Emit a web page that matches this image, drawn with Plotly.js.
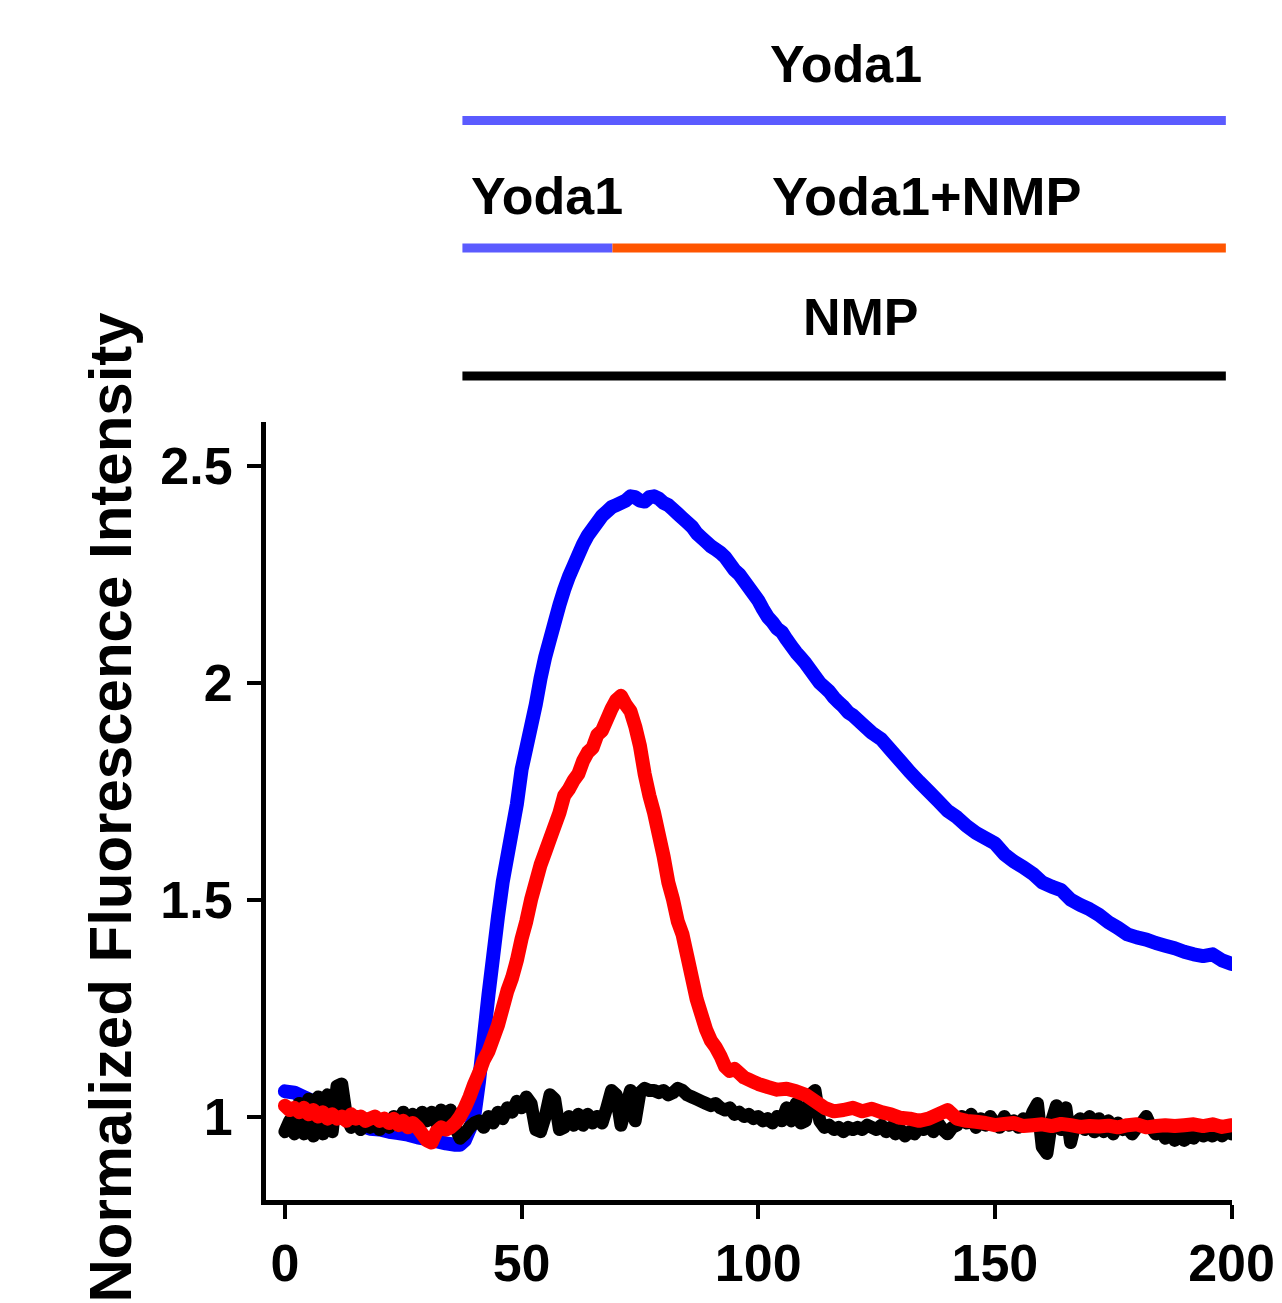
<!DOCTYPE html>
<html>
<head>
<meta charset="utf-8">
<script src="https://cdn.plot.ly/plotly-3.0.1.min.js"></script>
<style>
html, body { margin: 0; padding: 0; background: #fff; }
#chart { width: 1282px; height: 1303px; }
.scatterlayer .js-line { stroke-linejoin: round !important; stroke-linecap: round !important; }
</style>
</head>
<body>
<div id="chart"></div>
<script>
// ---- data (time in s, normalized fluorescence intensity) ----
const yoda1Time = [0,2,4,6,8,10,12,14,16,18,20,22,24,26,28,30,32,34,36,
  37,38,39,40,41,42,43,44,45,46,47,48,49,50,51,52,53,54,55,56,57,58,59,60,
  61,62,63,64,65,66,67,68,69,70,71,72,73,74,75,76,77,78,79,80,81,82,83,84,
  85,86,87,88,89,90,91,92,93,94,95,96,97,98,99,100,101,102,103,104,105,106,
  107,108,109,110,111,112,113,114,115,116,117,118,119,120,
  122,124,126,128,130,132,134,136,138,140,142,144,146,148,150,152,154,156,158,160,
  162,164,166,168,170,172,174,176,178,180,182,184,186,188,190,192,194,196,198,200];
const yoda1Values = [1.058,1.055,1.045,1.035,1.025,1.018,1.005,0.99,0.98,0.972,0.97,0.965,0.962,0.958,0.952,0.948,0.943,0.938,0.935,
  0.935,0.945,0.97,1.0,1.08,1.18,1.28,1.37,1.46,1.54,1.6,1.66,1.72,1.8,1.85,1.9,1.95,2.01,2.06,2.1,2.14,2.18,2.215,2.245,
  2.27,2.295,2.32,2.34,2.355,2.37,2.385,2.395,2.405,2.41,2.415,2.42,2.43,2.428,2.42,2.418,2.428,2.43,2.425,2.415,2.41,2.4,2.39,2.38,
  2.37,2.36,2.345,2.335,2.325,2.315,2.308,2.3,2.29,2.275,2.26,2.25,2.235,2.22,2.205,2.19,2.17,2.152,2.14,2.125,2.117,2.1,
  2.085,2.07,2.058,2.045,2.03,2.015,2.0,1.99,1.98,1.966,1.955,1.945,1.932,1.925,
  1.905,1.885,1.87,1.845,1.82,1.795,1.772,1.75,1.728,1.705,1.69,1.67,1.654,1.642,1.63,1.605,1.588,1.575,1.56,1.54,
  1.53,1.522,1.5,1.488,1.478,1.465,1.448,1.435,1.42,1.413,1.408,1.4,1.394,1.388,1.38,1.374,1.37,1.374,1.36,1.352];

const yoda1NmpTime = [0,1,2,3,4,5,6,7,8,9,10,11,12,13,14,15,16,17,18,19,20,
  21,22,23,24,25,26,27,28,29,30,31,32,33,34,35,36,37,38,39,40,
  41,42,43,44,45,46,47,48,49,50,51,52,53,54,55,56,57,58,59,60,
  61,62,63,64,65,66,67,68,69,70,71,72,73,74,75,76,77,78,79,80,
  81,82,83,84,85,86,87,88,89,90,91,92,93,94,95,96,97,98,99,100,
  102,104,106,108,110,112,114,116,118,120,122,124,126,128,130,132,134,136,138,140,
  142,144,146,148,150,152,154,156,158,160,162,164,166,168,170,172,174,176,178,180,
  182,184,186,188,190,192,194,196,198,200];
const yoda1NmpValues = [1.025,1.015,1.02,1.01,1.02,1.005,1.015,1.0,1.01,0.995,1.005,
  0.995,1.0,0.99,1.005,0.995,1.0,0.99,0.995,1.0,0.99,
  0.995,0.985,0.995,0.98,0.99,0.975,0.985,0.975,0.96,0.945,
  0.94,0.965,0.975,0.97,0.975,0.985,1.0,1.02,1.045,1.075,
  1.1,1.13,1.15,1.18,1.21,1.25,1.29,1.32,1.36,1.41,
  1.45,1.5,1.54,1.58,1.61,1.64,1.67,1.7,1.74,1.755,
  1.775,1.79,1.82,1.84,1.85,1.88,1.89,1.915,1.94,1.96,
  1.97,1.95,1.935,1.9,1.855,1.79,1.74,1.7,1.65,1.6,
  1.54,1.5,1.45,1.42,1.37,1.32,1.27,1.235,1.2,1.175,
  1.16,1.14,1.115,1.105,1.11,1.1,1.09,1.085,1.08,1.075,
  1.068,1.062,1.064,1.058,1.05,1.035,1.02,1.012,1.015,1.02,1.012,1.018,1.01,1.005,0.997,0.995,0.99,0.995,1.005,1.015,
  0.995,0.99,0.988,0.985,0.98,0.983,0.985,0.978,0.98,0.982,0.978,0.983,0.98,0.976,0.978,0.977,0.979,0.975,0.98,0.982,
  0.975,0.978,0.98,0.978,0.98,0.982,0.978,0.982,0.976,0.98];

const nmpTime = [0,1,2,3,4,5,6,7,8,9,10,11,12,13,14,15,16,17,18,19,20,
  21,22,23,24,25,26,27,28,29,30,31,32,33,34,35,36,37,38,39,40,
  41,42,43,44,45,46,47,48,49,50,51,52,53,54,55,56,57,58,59,60,
  61,62,63,64,65,66,67,68,69,70,71,72,73,74,75,76,77,78,79,80,
  81,82,83,84,85,86,87,88,89,90,91,92,93,94,95,96,97,98,99,100,
  101,102,103,104,105,106,107,108,109,110,111,112,113,114,115,116,117,118,119,120,
  121,122,123,124,125,126,127,128,129,130,131,132,133,134,135,136,137,138,139,140,
  141,142,143,144,145,146,147,148,149,150,151,152,153,154,155,156,157,158,159,160,
  161,162,163,164,165,166,167,168,169,170,171,172,173,174,175,176,177,178,179,180,
  181,182,183,184,185,186,187,188,189,190,191,192,193,194,195,196,197,198,199,200];
const nmpValues = [0.965,0.99,0.96,1.03,0.96,1.04,0.955,1.045,0.96,1.05,0.965,
  1.07,1.075,1.0,0.975,1.0,0.97,0.995,0.975,0.99,0.97,
  0.995,0.975,1.0,0.98,1.01,0.985,1.005,0.985,1.01,0.99,
  1.01,0.985,1.015,0.99,1.015,0.975,0.95,0.96,0.975,0.985,
  0.99,0.975,1.0,0.985,1.01,0.995,1.02,1.01,1.035,1.02,
  1.045,1.03,0.97,0.965,1.0,1.05,1.04,0.97,0.975,1.0,
  0.98,1.005,0.98,1.005,0.985,1.0,0.985,1.02,1.06,1.05,
  0.98,1.02,1.06,0.99,1.055,1.065,1.06,1.06,1.055,1.06,
  1.05,1.055,1.065,1.06,1.05,1.045,1.04,1.035,1.03,1.025,
  1.03,1.02,1.015,1.02,1.005,1.01,1.0,1.005,0.995,1.0,
  0.99,0.995,0.985,1.0,0.99,1.02,0.99,1.03,0.985,0.99,
  1.05,1.06,0.99,0.975,0.98,0.97,0.975,0.965,0.975,0.97,
  0.975,0.97,0.98,0.975,0.97,0.98,0.965,0.975,0.96,0.97,
  0.955,0.965,0.96,0.975,0.97,0.98,0.965,0.985,0.97,0.96,
  0.975,0.98,1.0,0.985,1.005,0.975,0.995,0.98,1.0,0.985,
  0.975,1.0,0.98,0.99,0.975,0.995,0.98,1.01,1.03,0.93,
  0.915,0.99,1.025,0.97,1.02,0.94,0.985,0.995,0.97,1.0,
  0.965,0.995,0.965,0.99,0.96,0.985,0.97,0.975,0.96,0.975,
  0.985,1.0,0.975,0.96,0.97,0.95,0.965,0.945,0.96,0.945,
  0.955,0.95,0.965,0.955,0.96,0.955,0.965,0.955,0.965,0.96];

const xTickVals = [0, 50, 100, 150, 200];
const xTickText = ['0', '50', '100', '150', '200'];
const yTickVals = [1, 1.5, 2, 2.5];
const yTickText = ['1', '1.5', '2', '2.5'];
const yAxisLabel = 'Normalized Fluorescence Intensity';

// ---- drawing ----
const FONT = 'Liberation Sans, Arial, Helvetica, sans-serif';

const traces = [
  { x: yoda1Time, y: yoda1Values, name: 'Yoda1', type: 'scatter', mode: 'lines',
    line: { color: '#0000ff', width: 14, simplify: false }, hoverinfo: 'skip' },
  { x: nmpTime, y: nmpValues, name: 'NMP', type: 'scatter', mode: 'lines',
    line: { color: '#000000', width: 13, simplify: false }, hoverinfo: 'skip' },
  { x: yoda1NmpTime, y: yoda1NmpValues, name: 'Yoda1+NMP', type: 'scatter', mode: 'lines',
    line: { color: '#ff0000', width: 14, simplify: false }, hoverinfo: 'skip' }
];

const axisCommon = {
  showline: true, linecolor: '#000', linewidth: 5, mirror: false,
  ticks: 'outside', ticklen: 14, tickwidth: 4, tickcolor: '#000',
  showgrid: false, zeroline: false, fixedrange: true,
  tickfont: { family: FONT, size: 52, color: '#000', weight: 'bold' }
};

const labelFont = { family: FONT, size: 52, color: '#000', weight: 'bold' };

const layout = {
  width: 1282, height: 1303,
  margin: { l: 266, r: 50, t: 422, b: 103 },
  paper_bgcolor: '#fff', plot_bgcolor: '#fff',
  showlegend: false,
  xaxis: Object.assign({}, axisCommon, {
    range: [-4.0, 200.1], tickvals: xTickVals, ticktext: xTickText, ticklabelstandoff: 0
  }),
  yaxis: Object.assign({}, axisCommon, {
    range: [0.8075, 2.6015], tickvals: yTickVals, ticktext: yTickText, ticklabelstandoff: 4
  }),
  shapes: [
    { type: 'line', xref: 'x', yref: 'paper', x0: 37.5, x1: 198.8, y0: 1.3875, y1: 1.3875,
      line: { color: '#5b5bff', width: 9 } },
    { type: 'line', xref: 'x', yref: 'paper', x0: 37.5, x1: 69.2, y0: 1.2237, y1: 1.2237,
      line: { color: '#5b5bff', width: 9 } },
    { type: 'line', xref: 'x', yref: 'paper', x0: 69.2, x1: 198.8, y0: 1.2237, y1: 1.2237,
      line: { color: '#ff5500', width: 9 } },
    { type: 'line', xref: 'x', yref: 'paper', x0: 37.5, x1: 198.8, y0: 1.0591, y1: 1.0591,
      line: { color: '#000000', width: 9 } }
  ],
  annotations: [
    { text: 'Yoda1', xref: 'x', yref: 'paper', x: 118.5, y: 1.460, showarrow: false,
      xanchor: 'center', yanchor: 'middle', font: labelFont },
    { text: 'Yoda1', xref: 'x', yref: 'paper', x: 55.3, y: 1.2905, showarrow: false,
      xanchor: 'center', yanchor: 'middle', font: labelFont },
    { text: 'Yoda1+NMP', xref: 'x', yref: 'paper', x: 135.6, y: 1.2905, showarrow: false,
      xanchor: 'center', yanchor: 'middle', font: Object.assign({}, labelFont, { size: 54 }) },
    { text: 'NMP', xref: 'x', yref: 'paper', x: 121.7, y: 1.135, showarrow: false,
      xanchor: 'center', yanchor: 'middle', font: labelFont },
    { text: yAxisLabel, xref: 'paper', yref: 'paper', x: -0.161, y: 0.505, showarrow: false,
      textangle: -90, xanchor: 'center', yanchor: 'middle',
      font: { family: FONT, size: 60, color: '#000', weight: 'bold' } }
  ]
};

Plotly.newPlot('chart', traces, layout, { staticPlot: true, displayModeBar: false });
</script>
</body>
</html>
